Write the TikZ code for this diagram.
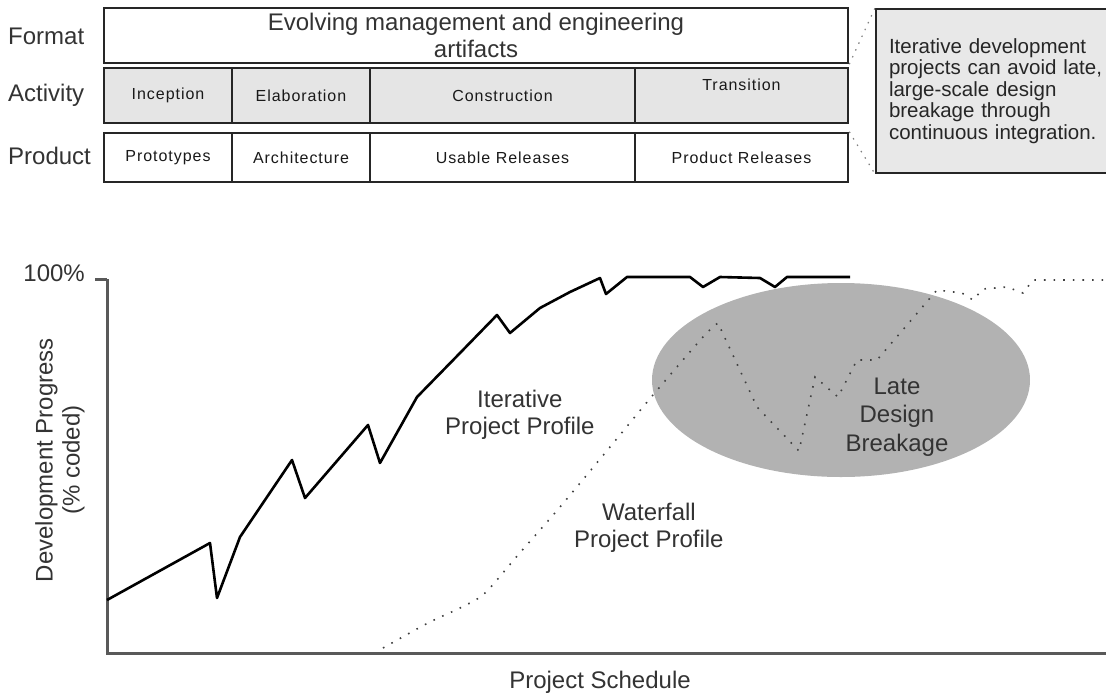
\documentclass[tikz,border=0pt]{standalone}
\usepackage{fontspec}
\setmainfont{Liberation Sans}
\usetikzlibrary{positioning}
\newcommand{\chartfont}{\fontsize{24}{27}\selectfont}
\newcommand{\cellfont}{\fontsize{16}{19}\selectfont\addfontfeatures{LetterSpace=6}}
\newcommand{\notefont}{\fontsize{20.5}{21.4}\selectfont}
\tikzset{
    rownode/.style = {draw=black!85, line width=2.5pt, rectangle, fill=white, inner sep=0pt, node distance=0em, font=\chartfont, text=black!80},
    cellnode/.style = {draw=black!85, line width=2.5pt, rectangle, inner sep=0pt, node distance=0em, font=\cellfont, text=black!90},
    textnode/.style = {draw=none, fill=none, rectangle, inner sep=0pt, node distance=0em, font=\chartfont, text=black!80},
    notenode/.style = {draw=black!85, line width=2pt, fill=black!9, rectangle, inner xsep=13pt, inner ysep=0pt, font=\notefont, text=black!85},
    callout/.style = {black!50, line width=1.2pt, dash pattern=on 1.5pt off 6pt},
    axis/.style = {black!65, line width=3pt},
    iterline/.style = {black, line width=2.6pt, line join=round},
    fallline/.style = {black!75, line width=1.6pt, dash pattern=on 1.6pt off 8pt},
    every text node part/.style={align=center}
}
\begin{document}
\begin{tikzpicture}[x=1pt, y=-1pt]
    \useasboundingbox (0,0) rectangle (1106,694);

    \node [name=Format, rownode, minimum width=744pt, minimum height=55pt] at (476,35.5) {Evolving management and engineering\\artifacts};
    \node [name=Inception, cellnode, below of = Format, xshift=-308pt, yshift=-60pt, fill=black!10, minimum width=128pt, minimum height=55pt] {Inception};
    \node [name=Elaboration, cellnode, right of = Inception, xshift=133pt, fill=black!10, minimum width=138pt, minimum height=55pt] {Elaboration};
    \node [name=Construction, cellnode, right of = Elaboration, xshift=201.5pt, fill=black!10, minimum width=265pt, minimum height=55pt] {Construction};
    \node [name=Transition, cellnode, right of = Construction, xshift=239pt, fill=black!10, minimum width=213pt, minimum height=55pt, text depth=21pt] {Transition};

    \node [name=Prototypes, cellnode, below of = Inception, yshift=-62pt, fill=white, minimum width=128pt, minimum height=49pt] {Prototypes};
    \node [name=Architecture, cellnode, right of = Prototypes, xshift=133pt, fill=white, minimum width=138pt, minimum height=49pt] {Architecture};
    \node [name=Usable, cellnode, right of = Architecture, xshift=201.5pt, fill=white, minimum width=265pt, minimum height=49pt] {Usable Releases};
    \node [name=Releases, cellnode, right of = Usable, xshift=239pt, fill=white, minimum width=213pt, minimum height=49pt] {Product Releases};

    \node [name=FormatLabel, textnode, anchor=west] at (8,36) {Format};
    \node [name=ActivityLabel, textnode, anchor=west] at (8,95) {Activity};
    \node [name=ProductLabel, textnode, anchor=west] at (8,156) {Product};

    \node [name=Note, notenode, anchor=north west, text width=236pt, minimum height=164pt, every text node part/.style={align=left}] at (875,8) {Iterative development\\projects can avoid late,\\large-scale design\\breakage through\\continuous integration.};
    \draw (Format.south east) edge[callout] (Note.north west);
    \draw (Releases.north east) edge[callout] (Note.south west);

    \coordinate (origin) at (107,653);
    \coordinate (ytop) at (107,279);
    \coordinate (xend) at (1106,653);
    \fill [black!30] (841,380) ellipse [x radius=189pt, y radius=97pt];
    \draw [axis] (ytop) -- (origin) -- (xend);
    \draw [axis] (ytop) -- ++(-12,0);

    \draw [iterline] (107,600) -- (210,543) -- (217,598) -- (240,537) -- (267,497) -- (292,460) -- (305,498)
        -- (368,425) -- (380,463) -- (417,397) -- (460,353) -- (497,315) -- (510,333) -- (540,308)
        -- (570,292) -- (600,278) -- (606,294) -- (627,277) -- (690,277) -- (703,287) -- (720,277)
        -- (760,278) -- (775,287) -- (787,277) -- (850,277);
    \draw [fallline] plot [smooth, tension=0.5] coordinates {(383,648) (428,623) (462,607) (485,593) (518,555)
        (560,507) (610,447) (653,395) (703,337) (718,323)}
        -- (757,407) -- (799,451) -- (815,377) -- (838,397) -- (857,360) -- (877,360) -- (937,290)
        -- (962,293) -- (973,300) -- (983,289) -- (1007,287) -- (1023,293) -- (1033,280) -- (1106,280);

    \node [name=Hundred, textnode, anchor=east] at (85,273) {100\%};
    \node [name=ProgressLabel, textnode, rotate=90] at (60,460) {Development Progress\\(\% coded)};
    \node [name=IterLabel, textnode, anchor=west, align=left] at (445,415) {Iterative\\Project Profile};
    \node [name=FallLabel, textnode, anchor=west, align=left] at (574,528) {Waterfall\\Project Profile};
    \node [name=LateLabel, textnode, font=\fontsize{24}{28.5}\selectfont] at (897,417) {Late\\Design\\Breakage};
    \node [name=ScheduleLabel, textnode] at (600,682) {Project Schedule};
\end{tikzpicture}
\end{document}
